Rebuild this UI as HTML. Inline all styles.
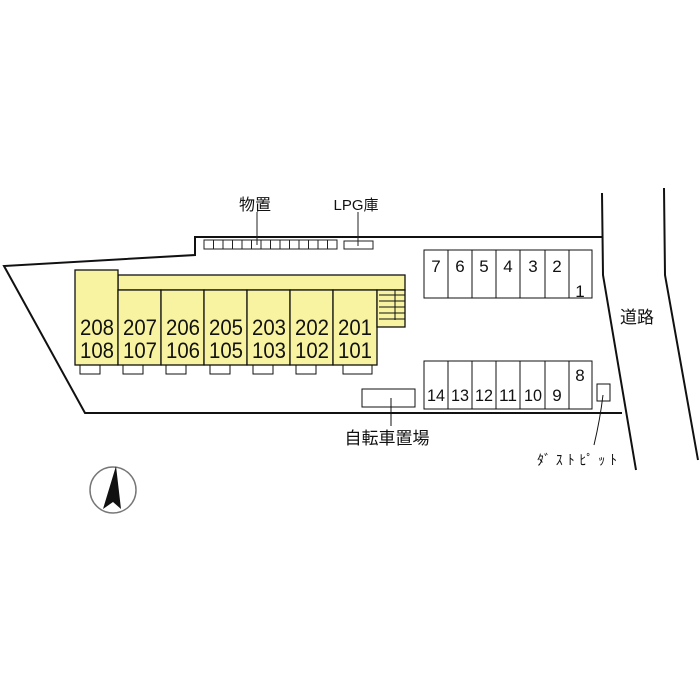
<!DOCTYPE html>
<html><head><meta charset="utf-8"><style>body{margin:0;background:#fff}svg{display:block}</style></head><body>
<svg width="700" height="700" viewBox="0 0 700 700" xmlns="http://www.w3.org/2000/svg" font-family="Liberation Sans, Noto Sans CJK JP, sans-serif">
<g fill="none" stroke="#111" stroke-width="2">
<polyline points="602,237 195,237 195,255 4,266 85,413 622,413"/>
<polyline points="602,193 603,275 636,470"/>
<polyline points="664,188 665,275 698,460"/>
</g>
<g stroke="#222" stroke-width="1" fill="none">
<rect x="204" y="240" width="133" height="9"/>
<path d="M213.5,240v9M223,240v9M232.5,240v9M242,240v9M251.5,240v9M261,240v9M270.5,240v9M280,240v9M289.5,240v9M299,240v9M308.5,240v9M318,240v9M327.5,240v9"/>
<rect x="344" y="241" width="29" height="8"/>
<line x1="257" y1="212" x2="257" y2="245"/>
<line x1="358" y1="212" x2="358" y2="246"/>
</g>
<g stroke="#111" stroke-width="1.3" fill="#f7f3a0">
<rect x="118" y="275" width="287" height="15"/>
<rect x="75" y="270" width="43" height="95"/>
<rect x="118" y="290" width="43" height="75"/>
<rect x="161" y="290" width="43" height="75"/>
<rect x="204" y="290" width="43" height="75"/>
<rect x="247" y="290" width="43" height="75"/>
<rect x="290" y="290" width="43" height="75"/>
<rect x="333" y="290" width="44" height="75"/>
<rect x="377" y="290" width="28" height="37"/>
</g>
<g stroke="#111" stroke-width="1" fill="none">
<path d="M379,295h26M379,301h26M379,307h26M379,313h26M379,319h26M395,290v30"/>
<rect x="80" y="365" width="20" height="9"/>
<rect x="123" y="365" width="20" height="9"/>
<rect x="166" y="365" width="20" height="9"/>
<rect x="210" y="365" width="20" height="9"/>
<rect x="253" y="365" width="20" height="9"/>
<rect x="296" y="365" width="20" height="9"/>
<rect x="343" y="365" width="29" height="9"/>
<rect x="362" y="389" width="53" height="18"/>
<line x1="391" y1="398" x2="391" y2="426"/>
<rect x="424" y="250" width="168" height="48"/>
<path d="M448,250v48M472,250v48M496,250v48M520,250v48M545,250v48M569,250v48"/>
<rect x="424" y="361" width="168" height="48"/>
<path d="M448,361v48M472,361v48M496,361v48M520,361v48M545,361v48M569,361v48"/>
<rect x="597" y="384" width="13" height="17"/>
<path d="M603,395 Q600,420 594,445"/>
</g>
<g font-size="22" fill="#111">
<text x="80" y="335" textLength="34" lengthAdjust="spacingAndGlyphs">208</text><text x="80" y="358" textLength="34" lengthAdjust="spacingAndGlyphs">108</text>
<text x="123" y="335" textLength="34" lengthAdjust="spacingAndGlyphs">207</text><text x="123" y="358" textLength="34" lengthAdjust="spacingAndGlyphs">107</text>
<text x="166" y="335" textLength="34" lengthAdjust="spacingAndGlyphs">206</text><text x="166" y="358" textLength="34" lengthAdjust="spacingAndGlyphs">106</text>
<text x="209" y="335" textLength="34" lengthAdjust="spacingAndGlyphs">205</text><text x="209" y="358" textLength="34" lengthAdjust="spacingAndGlyphs">105</text>
<text x="252" y="335" textLength="34" lengthAdjust="spacingAndGlyphs">203</text><text x="252" y="358" textLength="34" lengthAdjust="spacingAndGlyphs">103</text>
<text x="295" y="335" textLength="34" lengthAdjust="spacingAndGlyphs">202</text><text x="295" y="358" textLength="34" lengthAdjust="spacingAndGlyphs">102</text>
<text x="338" y="335" textLength="34" lengthAdjust="spacingAndGlyphs">201</text><text x="338" y="358" textLength="34" lengthAdjust="spacingAndGlyphs">101</text>
</g>
<g font-size="17" fill="#111" text-anchor="middle">
<text x="436" y="272">7</text><text x="460" y="272">6</text><text x="484" y="272">5</text><text x="508" y="272">4</text><text x="533" y="272">3</text><text x="557" y="272">2</text><text x="580" y="297">1</text>
<text x="436" y="401" textLength="18" lengthAdjust="spacingAndGlyphs">14</text><text x="460" y="401" textLength="18" lengthAdjust="spacingAndGlyphs">13</text><text x="484" y="401" textLength="18" lengthAdjust="spacingAndGlyphs">12</text><text x="508" y="401" textLength="18" lengthAdjust="spacingAndGlyphs">11</text><text x="533" y="401" textLength="18" lengthAdjust="spacingAndGlyphs">10</text><text x="557" y="401">9</text><text x="580" y="381">8</text>
</g>
<g fill="#111">
<text x="255" y="210" font-size="16" text-anchor="middle">物置</text>
<text x="356" y="210" font-size="15" text-anchor="middle">LPG庫</text>
<text x="637" y="323" font-size="17" text-anchor="middle">道路</text>
<text x="387" y="444" font-size="17" text-anchor="middle">自転車置場</text>
<text x="537" y="465" font-size="14" textLength="80" lengthAdjust="spacing">ﾀﾞｽﾄﾋﾟｯﾄ</text>
</g>
<circle cx="113" cy="490" r="23" fill="none" stroke="#777" stroke-width="1.5"/>
<polygon points="116,466 103,509 113,502 121,509" fill="#111"/>
</svg>
</body></html>
